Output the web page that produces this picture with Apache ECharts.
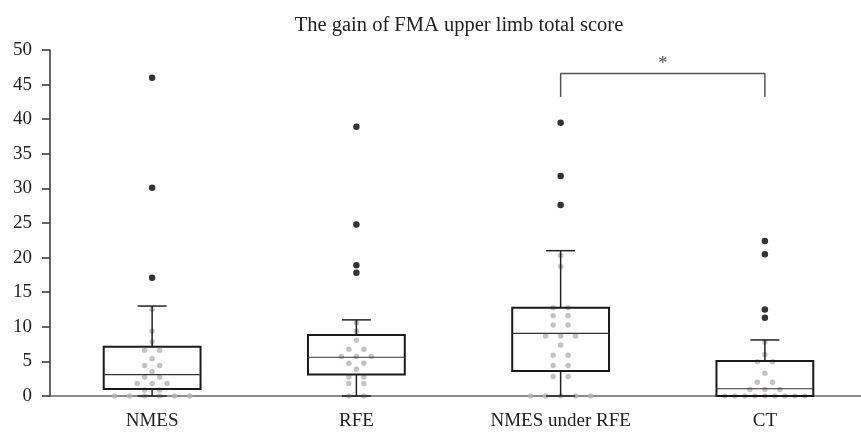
<!DOCTYPE html>
<html>
<head>
<meta charset="utf-8">
<script src="https://cdn.jsdelivr.net/npm/echarts@6/dist/echarts.min.js"></script>
<style>
html,body{margin:0;padding:0;background:#fff;}
#chart{width:861px;height:432px;}
</style>
</head>
<body>
<div id="chart"></div>
<script>
// ---------- data ----------
const categories = ['NMES', 'RFE', 'NMES under RFE', 'CT'];
const titleText = 'The gain of FMA upper limb total score';
const yTicks = [0, 50, 5]; // min, max, interval

// box statistics: [lower whisker, Q1, median, Q3, upper whisker]
const boxNMES = [0, 1.0, 3.1, 7.1, 13.0];
const boxRFE = [0, 3.1, 5.6, 8.8, 11.0];
const boxNMESunderRFE = [0, 3.6, 9.05, 12.75, 21.0];
const boxCT = [0, 0, 1.05, 5.05, 8.1];

// outliers (black dots)
const outNMES = [46.0, 30.1, 17.1];
const outRFE = [38.9, 24.8, 18.9, 17.8];
const outNMESunderRFE = [39.5, 31.8, 27.6];
const outCT = [22.4, 20.5, 12.5, 11.3];

// individual observations (grey dots)
const ptsNMES = [12.5, 9.4, 7.85, 6.6, 6.6, 5.4, 4.4, 4.4, 3.5, 2.75, 2.75, 1.8, 1.8, 1.8, 0.87, 0.87, 0, 0, 0, 0, 0, 0];
const ptsRFE = [10.6, 9.35, 8.05, 6.75, 6.75, 5.7, 5.7, 5.7, 4.75, 4.75, 3.85, 2.75, 2.75, 1.8, 1.8, 0, 0];
const ptsNMESunderRFE = [20.3, 18.7, 12.75, 12.75, 11.6, 11.6, 10.25, 10.25, 8.67, 8.67, 8.67, 7.37, 5.9, 5.9, 4.4, 4.4, 2.8, 2.8, 0, 0, 0, 0, 0];
const ptsCT = [7.8, 6.0, 4.95, 4.95, 3.3, 2.0, 2.0, 0.95, 0.95, 0.95, 0, 0, 0, 0, 0, 0, 0, 0, 0];

// significance: between category 2 and 3
const sigPair = [2, 3];
const sigLevels = [43.2, 46.6]; // leg bottom, bar height
const sigLabel = '*';

// ---------- build ----------
const boxes = [boxNMES, boxRFE, boxNMESunderRFE, boxCT];
const outs = [outNMES, outRFE, outNMESunderRFE, outCT];
const pts = [ptsNMES, ptsRFE, ptsNMESunderRFE, ptsCT];

const boxData = boxes.map((b, i) => [i].concat(b));
const outData = [];
outs.forEach((arr, i) => arr.forEach(v => outData.push([i, v])));

// beeswarm: identical values spread horizontally
const dotData = [];
pts.forEach((arr, i) => {
  const counts = {};
  arr.forEach(v => { counts[v] = (counts[v] || 0) + 1; });
  const seen = {};
  arr.forEach(v => {
    const n = counts[v];
    const k = seen[v] || 0;
    seen[v] = k + 1;
    const sp = n > 1 ? Math.min(15, 80 / (n - 1)) : 0;
    dotData.push({ value: [i, v], symbolOffset: [(k - (n - 1) / 2) * sp, 0] });
  });
});

const serif = '"Liberation Serif", "DejaVu Serif", serif';
const chart = echarts.init(document.getElementById('chart'), null, { renderer: 'canvas' });

const option = {
  animation: false,
  backgroundColor: '#fff',
  title: {
    text: titleText, left: 454, top: 10, textAlign: 'center',
    textStyle: { fontFamily: serif, fontSize: 20.5, fontWeight: 'normal', color: '#222' }
  },
  grid: { left: 50, width: 817, top: 50, bottom: 36, outerBoundsMode: 'none', containLabel: false },
  xAxis: [{
    type: 'category', data: categories, boundaryGap: true,
    axisLine: { lineStyle: { color: '#666', width: 1.5 } },
    axisTick: { alignWithLabel: true, length: 7, lineStyle: { color: '#222', width: 1.5 } },
    axisLabel: { fontFamily: serif, fontSize: 19, color: '#222', margin: 16 }
  }, {
    type: 'value', min: 0, max: categories.length, show: false
  }],
  yAxis: {
    type: 'value', min: yTicks[0], max: yTicks[1], interval: yTicks[2],
    axisLine: { show: true, lineStyle: { color: '#333', width: 1.5 } },
    axisTick: { show: true, length: 8, lineStyle: { color: '#333', width: 1.5 } },
    splitLine: { show: false },
    axisLabel: { fontFamily: serif, fontSize: 19, color: '#222', margin: 18 }
  },
  series: [
    {
      type: 'scatter', xAxisIndex: 0, data: dotData, symbolSize: 5.5, z: 2,
      itemStyle: { color: '#bab2b2' }, silent: true
    },
    {
      type: 'custom', xAxisIndex: 0, data: boxData, z: 3,
      renderItem: function (params, api) {
        const band = api.size([1, 0])[0];
        const cx = api.coord([api.value(0), 0])[0];
        const y = k => api.coord([api.value(0), api.value(k)])[1];
        const yMin = y(1), yQ1 = y(2), yMed = y(3), yQ3 = y(4), yMax = y(5);
        const hw = band * 0.237, cw = band * 0.071;
        const dark = '#222';
        return {
          type: 'group', children: [
            { type: 'line', shape: { x1: cx, y1: yQ3, x2: cx, y2: yMax }, style: { stroke: dark, lineWidth: 1.5 } },
            { type: 'line', shape: { x1: cx - cw, y1: yMax, x2: cx + cw, y2: yMax }, style: { stroke: dark, lineWidth: 1.5 } },
            { type: 'line', shape: { x1: cx, y1: yQ1, x2: cx, y2: yMin }, style: { stroke: dark, lineWidth: 1.5 } },
            { type: 'line', shape: { x1: cx - cw, y1: yMin, x2: cx + cw, y2: yMin }, style: { stroke: dark, lineWidth: 1.5 } },
            { type: 'rect', shape: { x: cx - hw, y: yQ3, width: 2 * hw, height: yQ1 - yQ3 }, style: { fill: 'none', stroke: '#1a1a1a', lineWidth: 2 } },
            { type: 'line', shape: { x1: cx - hw, y1: yMed, x2: cx + hw, y2: yMed }, style: { stroke: '#333', lineWidth: 1.2 } }
          ]
        };
      }
    },
    {
      type: 'scatter', xAxisIndex: 0, data: outData, symbolSize: 6.5, z: 4,
      itemStyle: { color: '#000' }, silent: true
    },
    {
      type: 'line', xAxisIndex: 1, z: 4, symbol: 'none', silent: true,
      data: [[sigPair[0] + 0.5, sigLevels[0]], [sigPair[0] + 0.5, sigLevels[1]], [sigPair[1] + 0.5, sigLevels[1]], [sigPair[1] + 0.5, sigLevels[0]]],
      lineStyle: { color: '#555', width: 1.5 }
    },
    {
      type: 'scatter', xAxisIndex: 1, z: 4, symbolSize: 0, silent: true,
      data: [[(sigPair[0] + sigPair[1]) / 2 + 0.5, sigLevels[1]]],
      label: { show: true, position: 'top', distance: 0, formatter: sigLabel, fontFamily: serif, fontSize: 19, color: '#222' }
    }
  ]
};
chart.setOption(option);
</script>
</body>
</html>
